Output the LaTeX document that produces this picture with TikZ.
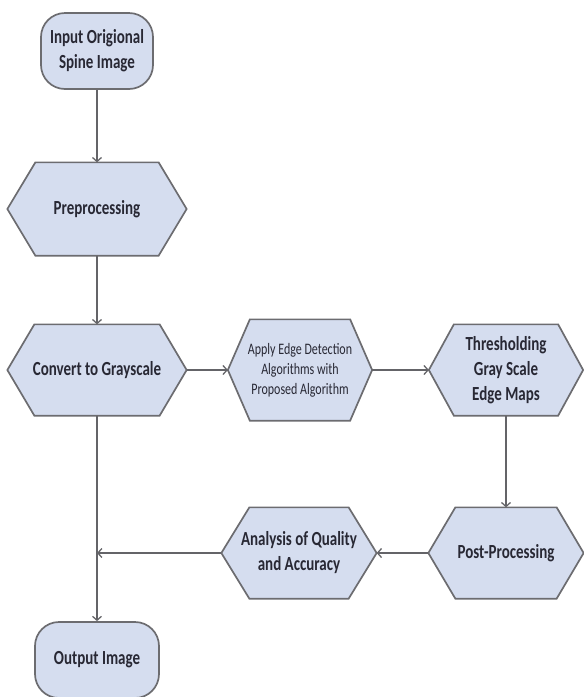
\documentclass[tikz,border=0pt]{standalone}
\usepackage{fontspec}
\newfontfamily\chartfont[FakeStretch=0.75]{Carlito}
\usetikzlibrary{arrows.meta,backgrounds}
\definecolor{boxfill}{RGB}{213,221,239}
\definecolor{boxline}{RGB}{108,108,112}
\definecolor{linkgray}{RGB}{100,100,104}
\definecolor{labeltext}{RGB}{40,40,52}

\begin{document}
\begin{tikzpicture}[->,>={Straight Barb[length=4pt,width=9pt]},node distance=160pt,
  color=linkgray,line width=1.3pt,
  font=\chartfont\bfseries\fontsize{20}{25}\selectfont,
  term node/.style={rectangle,rounded corners=24pt,draw=boxline,fill=boxfill,
    line width=1.7pt,text=labeltext,align=center,
    minimum width=112pt,minimum height=76pt},
  step node/.style={rectangle,text=labeltext,align=center,inner sep=1pt,
    minimum width=178pt,minimum height=90pt},
  hex outline/.style={-,draw=boxline,fill=boxfill,line width=1.7pt}]

  \useasboundingbox (0,0) rectangle (584pt,-697pt);

  \node[term node] (input) at (97pt,-51pt) {Input Origional\\Spine Image};
  \node[step node,minimum height=92pt] (prep) [below of=input,node distance=158pt] {Preprocessing};
  \node[step node] (gray) [below of=prep,node distance=161pt] {Convert to Grayscale};
  \node[step node,minimum width=143pt,minimum height=100pt,
    font=\chartfont\fontsize{16}{20}\selectfont] (edge) [right of=gray,node distance=203pt]
    {Apply Edge Detection\\Algorithms with\\Proposed Algorithm};
  \node[step node,minimum width=153pt] (thresh) [right of=edge,node distance=206pt]
    {Thresholding\\Gray Scale\\Edge Maps};
  \node[step node,minimum width=154pt] (post) [below of=thresh,node distance=183pt] {Post-Processing};
  \node[step node,minimum width=154pt] (quality) [left of=post,node distance=207pt]
    {Analysis of Quality\\and Accuracy};
  \node[term node,minimum width=124pt] (output) [below of=gray,node distance=290pt] {Output Image};

  % hexagon outlines behind the step nodes
  \begin{scope}[on background layer]
    \foreach \n/\d in {prep/28,gray/27,edge/22,thresh/25,post/27,quality/28}
      \path[hex outline] ([xshift=\d pt]\n.north west) -- ([xshift=-\d pt]\n.north east) -- (\n.east)
        -- ([xshift=-\d pt]\n.south east) -- ([xshift=\d pt]\n.south west) -- (\n.west) -- cycle;
  \end{scope}

  \coordinate (merge) at (gray |- quality);

  \path (input) edge (prep)
        (prep) edge (gray)
        (gray) edge (edge)
               edge (output)
        (edge) edge (thresh)
        (thresh) edge (post)
        (post) edge (quality)
        (quality) edge (merge);
\end{tikzpicture}
\end{document}
